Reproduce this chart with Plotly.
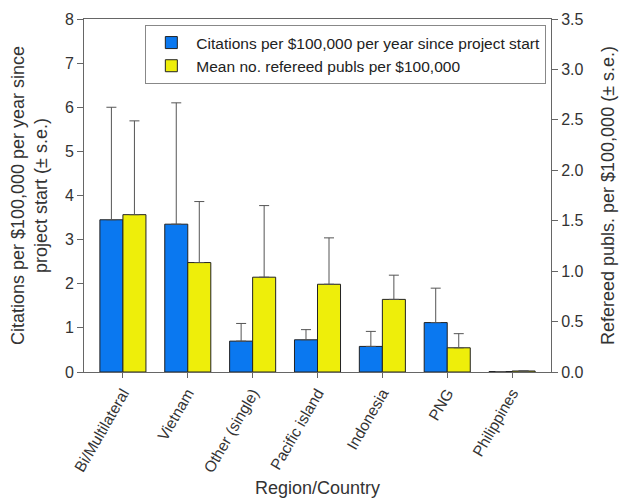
import plotly.graph_objects as go

# Regions / countries
regions = ["Bi/Multilateral", "Vietnam", "Other (single)", "Pacific island",
           "Indonesia", "PNG", "Philippines"]

# Citations per $100,000 per year since project start (mean and mean + s.e.)
citations = [3.45, 3.35, 0.70, 0.73, 0.58, 1.12, 0.01]
citations_upper = [6.00, 6.10, 1.10, 0.96, 0.92, 1.90, 0.01]

# Mean number of refereed publications per $100,000 (mean and mean + s.e.)
publs = [1.56, 1.085, 0.94, 0.87, 0.72, 0.24, 0.01]
publs_upper = [2.49, 1.69, 1.65, 1.33, 0.96, 0.38, 0.01]

blue = "#0a78f0"
yellow = "#eeee0a"
err_col = "#555555"
font_col = "#333333"
family = "Liberation Sans, Arial, sans-serif"

cit_err = [u - v for u, v in zip(citations_upper, citations)]
pub_err = [u - v for u, v in zip(publs_upper, publs)]

fig = go.Figure()
fig.add_trace(go.Bar(
    x=regions, y=citations, name="Citations per $100,000 per year since project start",
    marker=dict(color=blue, line=dict(color="#222222", width=1)),
    error_y=dict(type="data", array=cit_err, arrayminus=[0] * len(cit_err), symmetric=False,
                 color=err_col, thickness=1, width=5),
    offsetgroup="cit", yaxis="y",
))
fig.add_trace(go.Bar(
    x=regions, y=publs, name="Mean no. refereed publs per $100,000",
    marker=dict(color=yellow, line=dict(color="#222222", width=1)),
    error_y=dict(type="data", array=pub_err, arrayminus=[0] * len(pub_err), symmetric=False,
                 color=err_col, thickness=1, width=5),
    offsetgroup="pub", yaxis="y2",
))

fig.update_layout(
    width=619, height=498,
    margin=dict(l=84, r=68, t=19, b=126),
    paper_bgcolor="white", plot_bgcolor="white",
    barmode="group", bargap=0.29, bargroupgap=0,
    font=dict(family=family, size=15, color=font_col),
    showlegend=True,
    legend=dict(x=0.99, y=0.983, xanchor="right", yanchor="top",
                bgcolor="white", bordercolor="#888888", borderwidth=1,
                font=dict(family=family, size=15.5, color="#222222"),
                itemwidth=40, tracegroupgap=0),
    xaxis=dict(
        range=[-0.6, 6.6], tickangle=-60, showline=True, linecolor="#666666", linewidth=1,
        mirror=True, ticks="outside", ticklen=5, tickcolor="#666666", automargin=False,
        title=dict(text="Region/Country", font=dict(size=18, color=font_col), standoff=8),
        tickfont=dict(size=15.5, color=font_col),
    ),
    yaxis=dict(
        range=[0, 8], dtick=1, showgrid=False, zeroline=False, showline=True, automargin=False,
        linecolor="#666666", linewidth=1, ticks="outside", ticklen=6, tickcolor="#666666",
        title=dict(text="Citations per $100,000 per year since<br>project start (± s.e.)",
                   font=dict(size=18, color=font_col), standoff=12),
        tickfont=dict(size=16, color=font_col),
    ),
    yaxis2=dict(
        range=[0, 3.5], dtick=0.5, tickformat=".1f", overlaying="y", side="right",
        showgrid=False, zeroline=False, showline=True, linecolor="#666666", linewidth=1,
        ticks="outside", ticklen=6, tickcolor="#666666", automargin=False,
        title=dict(text="Refereed publs. per $100,000 (± s.e.)",
                   font=dict(size=18, color=font_col), standoff=18),
        tickfont=dict(size=16, color=font_col),
    ),
)

fig.write_html("out.html")
